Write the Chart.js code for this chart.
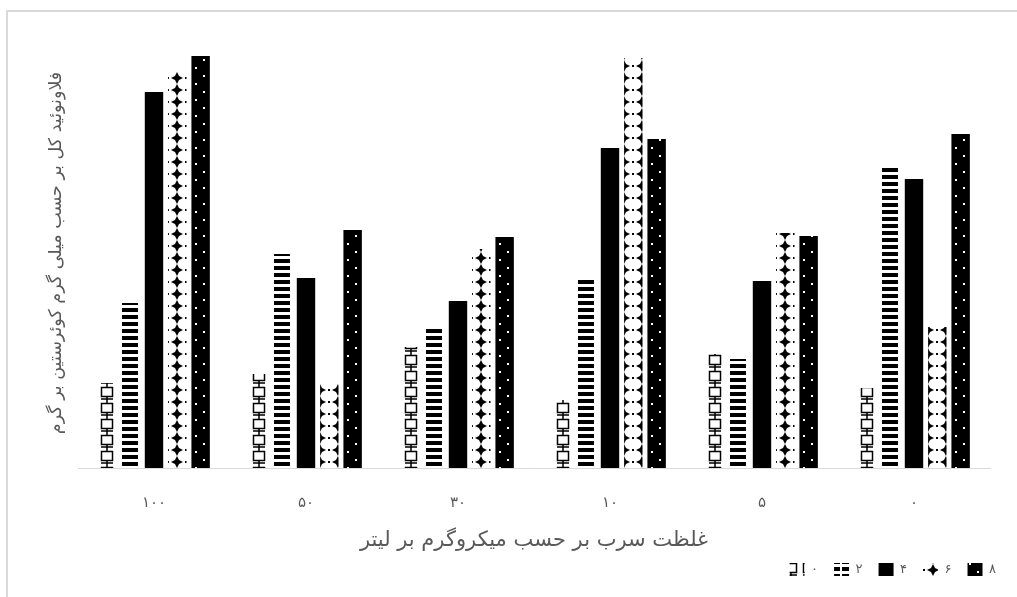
<!DOCTYPE html>
<html>
<head>
<meta charset="utf-8">
<script src="https://cdn.jsdelivr.net/npm/chart.js@4/dist/chart.umd.min.js"></script>
<style>
  html, body { margin: 0; padding: 0; background: #fff; }
  #wrap { width: 1017px; height: 597px; }
</style>
</head>
<body>
<div id="wrap"><canvas id="chart" width="1017" height="597"></canvas></div>
<script>
const categories = ['۱۰۰', '۵۰', '۳۰', '۱۰', '۵', '۰'];
const seriesNames = ['۰', '۲', '۴', '۶', '۸'];

const series0 = [0.85, 0.94, 1.21, 0.68, 1.14, 0.80];
const series2 = [1.65, 2.14, 1.41, 1.89, 1.09, 3.01];
const series4 = [3.76, 1.90, 1.67, 3.20, 1.87, 2.89];
const series6 = [3.96, 0.84, 2.19, 4.10, 2.35, 1.41];
const series8 = [4.12, 2.38, 2.31, 3.29, 2.32, 3.34];

const yTitle = 'فلاونوئید کل بر حسب میلی گرم کوئرستین بر گرم';
const xTitle = 'غلظت سرب بر حسب میکروگرم بر لیتر';

const catPct = 0.767;
const barPct = 0.79;
const textColor = '#595959';
const fontFamily = '"DejaVu Sans", sans-serif';

// small tiles for the black and white fills
function tile(w, h, draw) {
  const c = document.createElement('canvas');
  c.width = w;
  c.height = h;
  const g = c.getContext('2d');
  draw(g);
  return c;
}

const tiles = [
  tile(18, 16, g => {
    g.fillStyle = '#fff';
    g.fillRect(0, 0, 18, 16);
    g.strokeStyle = '#000';
    g.lineWidth = 1.5;
    g.beginPath();
    g.moveTo(9, 0); g.lineTo(9, 3.5);
    g.moveTo(9, 12.5); g.lineTo(9, 16);
    g.moveTo(3, 15); g.lineTo(15, 15);
    g.stroke();
    g.strokeRect(3.5, 3.5, 11, 9);
  }),
  tile(18, 7, g => {
    g.fillStyle = '#fff';
    g.fillRect(0, 0, 18, 7);
    g.fillStyle = '#000';
    g.fillRect(1, 0, 16, 4);
  }),
  tile(18, 8, g => {
    g.fillStyle = '#000';
    g.fillRect(0, 0, 18, 8);
  }),
  tile(18, 12, g => {
    g.fillStyle = '#fff';
    g.fillRect(0, 0, 18, 12);
    g.fillStyle = '#000';
    g.beginPath();
    g.moveTo(9, 0);
    g.lineTo(11, 4);
    g.lineTo(15, 6);
    g.lineTo(11, 8);
    g.lineTo(9, 12);
    g.lineTo(7, 8);
    g.lineTo(3, 6);
    g.lineTo(7, 4);
    g.closePath();
    g.fill();
    g.fillRect(0, 5, 1, 2);
    g.fillRect(17, 5, 1, 2);
  }),
  tile(18, 16, g => {
    g.fillStyle = '#000';
    g.fillRect(0, 0, 18, 16);
    g.fillStyle = '#fff';
    g.fillRect(4, 3, 2, 2);
    g.fillRect(12, 11, 2, 2);
  })
];

const canvas = document.getElementById('chart');
const ctx2d = canvas.getContext('2d');

// pattern lined up with the left edge of each bar
function fillFor(k) {
  const legendPattern = ctx2d.createPattern(tiles[k], 'repeat');
  return (c) => {
    if (c.type !== 'data') return legendPattern;
    const x = c.chart.scales.x;
    const stride = (x.width / categories.length) * catPct / seriesNames.length;
    const center = x.getPixelForValue(c.dataIndex) + (c.datasetIndex - 2) * stride;
    let left = Math.round(center - stride * barPct / 2);
    if (k === 3 && c.dataIndex % 2 === 1) left += 9;
    const p = ctx2d.createPattern(tiles[k], 'repeat');
    p.setTransform(new DOMMatrix().translate(left, 0));
    return p;
  };
}

const frame = {
  id: 'frame',
  beforeDraw(chart) {
    const g = chart.ctx;
    g.save();
    g.fillStyle = '#d9d9d9';
    g.fillRect(6, 10, 2, 597);
    g.fillRect(6, 10, 1017, 2);
    g.restore();
  }
};

const allSeries = [series0, series2, series4, series6, series8];

new Chart(canvas, {
  type: 'bar',
  data: {
    labels: categories,
    datasets: allSeries.map((values, i) => ({
      label: seriesNames[i],
      data: values,
      backgroundColor: fillFor(i),
      borderWidth: 0,
      categoryPercentage: catPct,
      barPercentage: barPct
    }))
  },
  options: {
    responsive: false,
    animation: false,
    layout: { padding: { left: 46, right: 5, top: 38, bottom: 11 } },
    plugins: {
      tooltip: { enabled: false },
      legend: {
        position: 'bottom',
        align: 'end',
        labels: {
          boxWidth: 15,
          boxHeight: 13,
          padding: 16,
          color: textColor,
          font: { family: fontFamily, size: 13 }
        }
      }
    },
    scales: {
      x: {
        grid: { display: false, drawTicks: false },
        border: { display: true, color: '#d9d9d9', width: 1 },
        ticks: { color: textColor, padding: 26, font: { family: fontFamily, size: 15 } },
        title: {
          display: true,
          text: xTitle,
          color: textColor,
          padding: { top: 0, bottom: -6 },
          font: { family: fontFamily, size: 21 }
        },
        afterFit(scale) { scale.height = 79; }
      },
      y: {
        min: 0,
        max: 4.3,
        grid: { display: false, drawTicks: false },
        border: { display: false },
        ticks: { display: false },
        title: {
          display: true,
          text: yTitle,
          color: textColor,
          padding: { top: 0, bottom: 11 },
          font: { family: fontFamily, size: 17.5 }
        }
      },
      y2: {
        position: 'right',
        grid: { display: false, drawTicks: false },
        border: { display: false },
        ticks: { display: false },
        afterFit(scale) { scale.width = 22; }
      }
    }
  },
  plugins: [frame]
});
</script>
</body>
</html>
